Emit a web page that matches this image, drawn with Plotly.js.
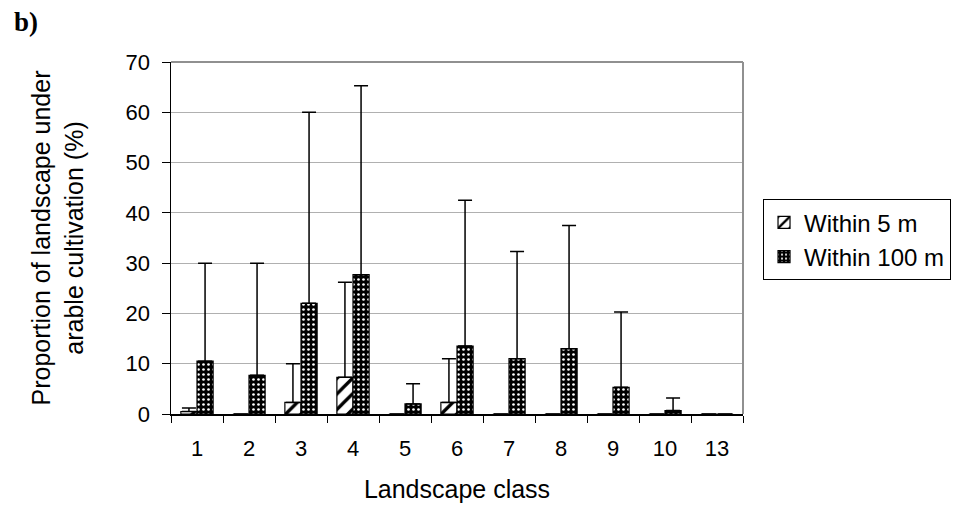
<!DOCTYPE html>
<html>
<head>
<meta charset="utf-8">
<script src="https://cdn.plot.ly/plotly-3.0.1.min.js"></script>
<style>html,body{margin:0;padding:0;background:#fff;}#chart{width:954px;height:515px;}</style>
</head>
<body>
<div id="chart"></div>
<script>
const categories = ["1","2","3","4","5","6","7","8","9","10","13"];
const within5 = [0.5, 0, 2.3, 7.3, 0, 2.3, 0, 0, 0, 0, 0];
const within5Upper = [1.2, 0, 10, 26.2, 0, 11, 0, 0, 0, 0, 0];
const within100 = [10.5, 7.7, 22, 27.7, 2, 13.5, 11, 13, 5.3, 0.7, 0];
const within100Upper = [30, 30, 60, 65.3, 6, 42.5, 32.3, 37.5, 20.3, 3.2, 0];
const yTicks = [0,10,20,30,40,50,60,70];

const font = "Liberation Sans, Arial, sans-serif";

const traces = [
  {
    type: "bar", name: "Within 5 m", x: categories, y: within5,
    marker: {color: "#fff", line: {color: "#000", width: 1.2},
      pattern: {shape: "/", bgcolor: "#fff", fgcolor: "#000", size: 11, solidity: 0.3, fillmode: "replace"}},
    error_y: {type: "data", symmetric: false, array: within5Upper.map((u,i)=>u-within5[i]),
      arrayminus: within5.map(()=>0), color: "#000", thickness: 1.5, width: 7}
  },
  {
    type: "bar", name: "Within 100 m", x: categories, y: within100,
    marker: {color: "#000", line: {color: "#000", width: 1.2},
      pattern: {shape: ".", bgcolor: "#000", fgcolor: "#fff", size: 5, solidity: 0.22, fillmode: "replace"}},
    error_y: {type: "data", symmetric: false, array: within100Upper.map((u,i)=>u-within100[i]),
      arrayminus: within100.map(()=>0), color: "#000", thickness: 1.5, width: 7}
  }
];

const layout = {
  width: 954, height: 515,
  margin: {l: 171, r: 211, t: 62, b: 101, autoexpand: false},
  paper_bgcolor: "#fff", plot_bgcolor: "#fff",
  font: {family: font, color: "#000", size: 22},
  barmode: "group", bargap: 0.38, bargroupgap: 0,
  showlegend: true,
  legend: {x: 1.035, y: 0.61, xanchor: "left", yanchor: "top",
    bordercolor: "#000", borderwidth: 1, font: {family: font, size: 24},
    tracegroupgap: 0, itemwidth: 30},
  xaxis: {type: "category", showline: true, linecolor: "#000", linewidth: 1.5,
    ticks: "outside", tickson: "boundaries", ticklen: 7, tickcolor: "#000",
    tickfont: {size: 22}, ticklabelstandoff: 14, showgrid: false, automargin: false,
    title: {text: "Landscape class", font: {size: 25}, standoff: 20}},
  yaxis: {range: [0, 70], tickvals: yTicks, showline: true, linecolor: "#000", linewidth: 1.5,
    ticks: "outside", ticklen: 8, tickcolor: "#000", tickfont: {size: 22}, ticklabelstandoff: 7,
    showgrid: true, gridcolor: "#b0b0b0", gridwidth: 1, zeroline: false, automargin: false,
    title: {text: "Proportion of landscape under<br>arable cultivation (%)", font: {size: 25}, standoff: 35}},
  shapes: [
    {type: "line", xref: "paper", yref: "paper", x0: 0, x1: 1, y0: 1, y1: 1, line: {color: "#909090", width: 2}},
    {type: "line", xref: "paper", yref: "paper", x0: 1, x1: 1, y0: 0, y1: 1, line: {color: "#909090", width: 2}}
  ],
  annotations: [
    {text: "<b>b)</b>", xref: "paper", yref: "paper", x: -0.278, y: 1.163, xanchor: "left", yanchor: "top",
      showarrow: false, font: {family: "Liberation Serif, Times New Roman, serif", size: 27}}
  ]
};

Plotly.newPlot("chart", traces, layout, {displayModeBar: false, staticPlot: true});
</script>
</body>
</html>
